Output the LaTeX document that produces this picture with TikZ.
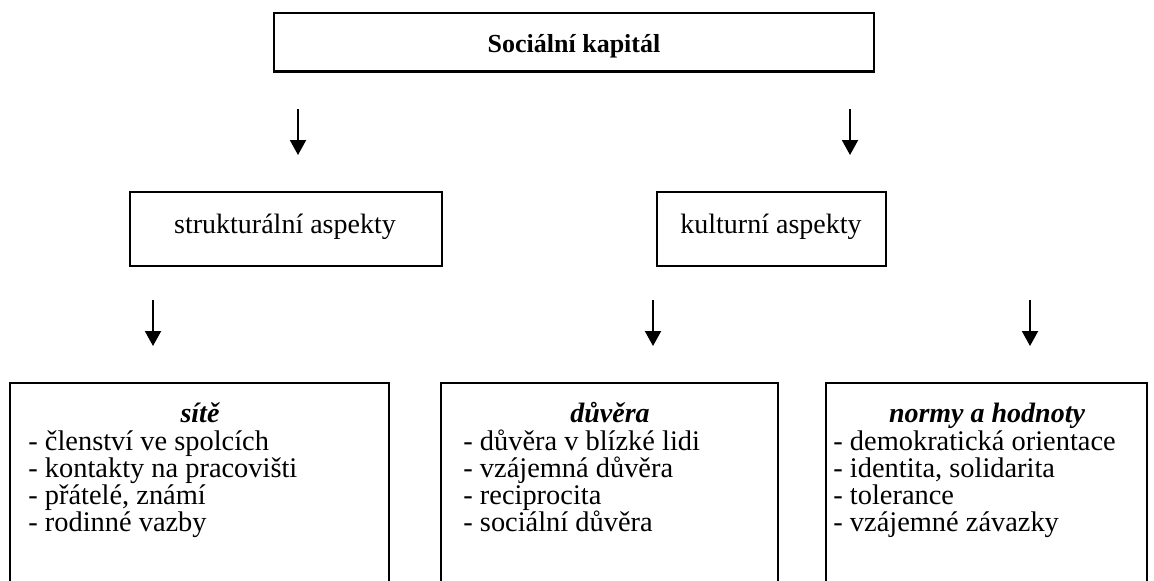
\documentclass[tikz,border=0pt]{standalone}
\usepackage{fontspec}
\setmainfont{Liberation Serif}
\usetikzlibrary{arrows.meta}
\begin{document}
\begin{tikzpicture}[x=0.5pt,y=-0.5pt,
  box/.style={draw,line width=1.2pt,inner sep=0pt,outer sep=0pt,anchor=north west},
  txt/.style={inner sep=0pt,anchor=base,font=\fontsize{14}{17.5}\selectfont},
  itm/.style={inner sep=0pt,anchor=base west,font=\fontsize{14.2}{17.5}\selectfont},
  ttl/.style={inner sep=0pt,anchor=base,font=\fontsize{14}{17.5}\selectfont\bfseries\itshape},
  arr/.style={line width=1pt,-{Triangle[length=7.5pt,width=8pt]}}]
\useasboundingbox (0,0) rectangle (1154,580);
\fill[white] (0,0) rectangle (1154,580);
% boxes
\node[box,minimum width=300pt,minimum height=29.25pt] (topbox) at (274,13) {};
\node[box,minimum width=156pt,minimum height=37pt] (strbox) at (130,192) {};
\node[box,minimum width=114.5pt,minimum height=37pt] (kulbox) at (657,192) {};
\node[box,minimum width=189.5pt,minimum height=108.5pt] (sitbox) at (10,383) {};
\node[box,minimum width=168.5pt,minimum height=108.5pt] (duvbox) at (441,383) {};
\node[box,minimum width=160.5pt,minimum height=108.5pt] (norbox) at (826,383) {};
% texts
\node[txt,font=\fontsize{13}{16}\selectfont\bfseries] (tsk) at (574,52) {Sociální kapitál};
\node[txt] (tsa) at (285,233) {strukturální aspekty};
\node[txt] (tka) at (771,233) {kulturní aspekty};
\node[ttl] (tsit) at (200,422) {sítě};
\node[ttl] (tduv) at (610,422) {důvěra};
\node[ttl] (tnor) at (987,422) {normy a hodnoty};
\foreach \t [count=\i] in {{- členství ve spolcích},{- kontakty na pracovišti},{- přátelé, známí},{- rodinné vazby}}
  \node[itm] (s\i) at (28,423+27*\i) {\t};
\foreach \t [count=\i] in {{- důvěra v blízké lidi},{- vzájemná důvěra},{- reciprocita},{- sociální důvěra}}
  \node[itm] (d\i) at (463,423+27*\i) {\t};
\foreach \t [count=\i] in {{- demokratická orientace},{- identita, solidarita},{- tolerance},{- vzájemné závazky}}
  \node[itm] (n\i) at (833,423+27*\i) {\t};
% arrows
\coordinate (a1s) at (298,109); \coordinate (a1e) at (298,155);
\coordinate (a2s) at (850,109); \coordinate (a2e) at (850,155);
\coordinate (a3s) at (153,300); \coordinate (a3e) at (153,346);
\coordinate (a4s) at (653,300); \coordinate (a4e) at (653,346);
\coordinate (a5s) at (1030,300); \coordinate (a5e) at (1030,346);
\foreach \k in {1,...,5} \draw[arr] (a\k s) -- (a\k e);
\end{tikzpicture}
\end{document}
